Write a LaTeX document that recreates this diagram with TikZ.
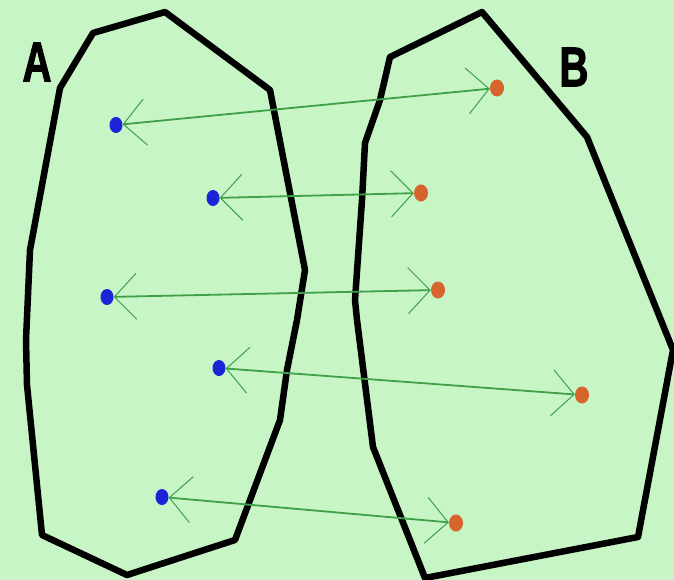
\documentclass[tikz,border=0pt]{standalone}
\usepackage{fontspec}
\setsansfont{Liberation Sans}
\newfontfamily\lblfont[FakeBold=2]{Liberation Sans}
\usetikzlibrary{arrows.meta,shapes.geometric}
\definecolor{bg}{RGB}{200,245,198}
\definecolor{linkgreen}{RGB}{62,160,72}
\definecolor{dotblue}{RGB}{28,36,215}
\definecolor{dotorange}{RGB}{215,100,45}
\begin{document}
\begin{tikzpicture}[x=1pt,y=-1pt,
  setline/.style={draw=black,line width=6.5pt,line join=round},
  bdot/.style={ellipse,fill=dotblue,minimum width=13pt,minimum height=16pt,inner sep=0pt},
  odot/.style={ellipse,fill=dotorange,minimum width=14pt,minimum height=17pt,inner sep=0pt},
  link/.style={draw=linkgreen,line width=1.8pt,
    {Straight Barb[length=22pt,width=46pt,line width=1pt]}-{Straight Barb[length=22pt,width=46pt,line width=1pt]}},
  lbl/.style={font=\lblfont\bfseries\fontsize{56}{56}\selectfont,xscale=0.72,inner sep=0pt}]
\fill[bg] (0,0) rectangle (674,580);
\useasboundingbox (0,0) rectangle (674,580);
% set A
\draw[setline] (93,33) -- (165,12) -- (270,90) -- (305,270) -- (297,320) -- (287,370) -- (280,420) -- (235,540) -- (127,575) -- (42,535) -- (27,385) -- (26,340) -- (30,250) -- (60,88) -- cycle;
% set B
\draw[setline] (390,57) -- (482,12) -- (587,137) -- (673,350) -- (638,537) -- (425,578) -- (373,447) -- (357,320) -- (355,300) -- (362,200) -- (365,143) -- (380,100) -- cycle;
\node[lbl] (la) at (37,62) {A};
\node[lbl] (lb) at (574,67) {B};
% points
\node[bdot] (a1) at (116,125) {};
\node[bdot] (a2) at (213,198) {};
\node[bdot] (a3) at (107,297) {};
\node[bdot] (a4) at (219,368) {};
\node[bdot] (a5) at (162,497) {};
\node[odot] (b1) at (497,88) {};
\node[odot] (b2) at (421,193) {};
\node[odot] (b3) at (438,290) {};
\node[odot] (b4) at (582,395) {};
\node[odot] (b5) at (456,523) {};
% arrows
\draw[link] (a1) -- (b1);
\draw[link] (a2) -- (b2);
\draw[link] (a3) -- (b3);
\draw[link] (a4) -- (b4);
\draw[link] (a5) -- (b5);
\end{tikzpicture}
\end{document}
